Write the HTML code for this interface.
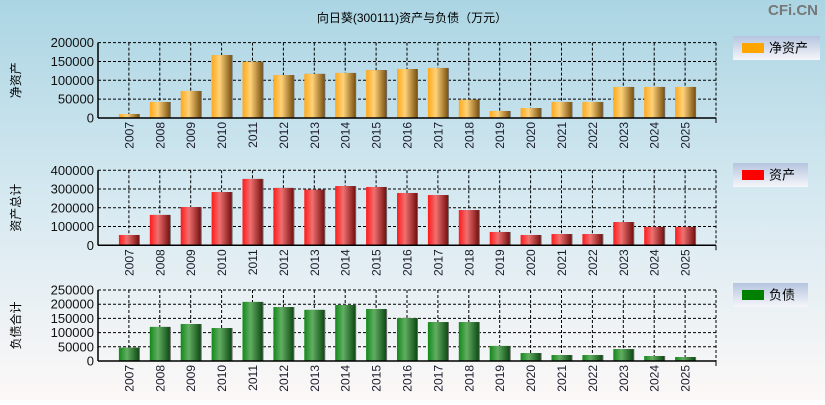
<!DOCTYPE html>
<html><head><meta charset="utf-8">
<style>
html,body{margin:0;padding:0;}
body{width:825px;height:400px;overflow:hidden;font-family:"Liberation Sans","Noto Sans CJK SC",sans-serif;}
</style></head>
<body>
<svg id="chart" width="825" height="400" xmlns="http://www.w3.org/2000/svg" font-family="Liberation Sans, Noto Sans CJK SC, sans-serif">
<defs>
<linearGradient id="bg" x1="0" y1="0" x2="0" y2="1"><stop offset="0" stop-color="#abd5e3"/><stop offset="0.5" stop-color="#d6e9f1"/><stop offset="1" stop-color="#fcf8f7"/></linearGradient>
<linearGradient id="lg" x1="0" y1="0" x2="0" y2="1"><stop offset="0" stop-color="#b5c5df"/><stop offset="1" stop-color="#f6f6fa"/></linearGradient>
<linearGradient id="gO" x1="0" y1="0" x2="1" y2="0"><stop offset="0" stop-color="#ffa81a"/><stop offset="0.4" stop-color="#ffd27a"/><stop offset="1" stop-color="#7d5412"/></linearGradient>
<linearGradient id="gR" x1="0" y1="0" x2="1" y2="0"><stop offset="0" stop-color="#ff1a1a"/><stop offset="0.4" stop-color="#f07070"/><stop offset="1" stop-color="#761010"/></linearGradient>
<linearGradient id="gG" x1="0" y1="0" x2="1" y2="0"><stop offset="0" stop-color="#12881a"/><stop offset="0.4" stop-color="#62ae62"/><stop offset="1" stop-color="#0e4a14"/></linearGradient>
</defs>
<rect width="825" height="400" fill="url(#bg)"/>
<text x="412" y="22" text-anchor="middle" font-size="12" fill="#000">向日葵(300111)资产与负债（万元）</text>
<text x="818" y="15" text-anchor="end" font-size="15" font-weight="bold" fill="#777">CFi.CN</text>
<g id="panels"></g>
</svg>
<script>
const categories = ['2007','2008','2009','2010','2011','2012','2013','2014','2015','2016','2017','2018','2019','2020','2021','2022','2023','2024','2025'];
const netAssets = [10600,42500,71700,167000,149500,114000,117000,119500,127000,130000,132700,48700,18600,26500,42500,42500,82300,82300,82300];
const totalAssets = [55000,162000,204000,284000,354000,306000,297000,316000,311000,279000,268000,188000,71000,55000,60000,60000,124000,98000,98000];
const totalLiabilities = [47000,120000,130000,116000,208000,190000,180000,197000,183000,151000,137000,137000,53000,28000,21000,21000,42000,17600,14000];
const ticks1 = [0,50000,100000,150000,200000];
const ticks2 = [0,100000,200000,300000,400000];
const ticks3 = [0,50000,100000,150000,200000,250000];

const NS='http://www.w3.org/2000/svg';
const root=document.getElementById('panels');
function mk(tag,attrs,parent){const e=document.createElementNS(NS,tag);for(const k in attrs)e.setAttribute(k,attrs[k]);(parent||root).appendChild(e);return e;}
const L=98,R=716;
function xPos(i){return L+(i+1)*(R-L)/(categories.length+1);}

function panel(cfg){
  const g=mk('g',{});
  
  
  const max=cfg.ticks[cfg.ticks.length-1];
  const y=v=>cfg.bottom-(v/max)*(cfg.bottom-cfg.top);
  // grid
  cfg.ticks.forEach(t=>{
    if(t>0){const l=mk('line',{x1:L,x2:R,y1:y(t),y2:y(t),stroke:'#000','stroke-dasharray':'3,2','stroke-width':1},g);
      }
    const tx=mk('text',{x:L-4,y:y(t)+4.5,'text-anchor':'end','font-size':13,fill:'#111'},g);
    tx.textContent=t;
    
  });
  categories.forEach((c,i)=>{
    const l=mk('line',{x1:xPos(i),x2:xPos(i),y1:cfg.top,y2:cfg.bottom,stroke:'#000','stroke-dasharray':'3,2'},g);
    
  });
  const rb=mk('line',{x1:R,x2:R,y1:cfg.top,y2:cfg.bottom,stroke:'#000','stroke-dasharray':'3,2'},g);
  
  // bars
  cfg.values.forEach((v,i)=>{
    const x=xPos(i);
    const sh=mk('rect',{x:x-9,y:y(v),width:20,height:cfg.bottom-y(v),fill:'#6a6a6a'},g);
    
    const b=mk('rect',{x:x-10,y:y(v),width:20,height:cfg.bottom-y(v),fill:cfg.fill},g);
    
    const tx=mk('text',{x:0,y:0,'text-anchor':'end','font-size':12,fill:'#1a1a2a',transform:`translate(${x+4.5},${cfg.bottom+4}) rotate(-90)`},g);
    tx.textContent=categories[i];
    
  });
  // axes
  const ay=mk('line',{x1:L,x2:L,y1:cfg.top,y2:cfg.bottom,stroke:'#000','stroke-width':1.5},g);
  
  const ax=mk('line',{x1:L,x2:R,y1:cfg.bottom,y2:cfg.bottom,stroke:'#000','stroke-width':1.5},g);
  
  const tk=mk('line',{x1:R,x2:R,y1:cfg.bottom,y2:cfg.bottom+5,stroke:'#000'},g);
  
  // y title
  const yt=mk('text',{x:0,y:0,'text-anchor':'middle','font-size':12,fill:'#000',transform:`translate(20,${(cfg.top+cfg.bottom)/2}) rotate(-90)`},g);
  yt.textContent=cfg.ytitle;
  
  // legend
  const lg=mk('g',{},g);
  
  mk('rect',{x:733,y:cfg.ly,width:cfg.lw,height:24,fill:'url(#lg)'},lg);
  mk('rect',{x:742,y:cfg.ly+7,width:22,height:10,fill:cfg.solid},lg);
  const lt=mk('text',{x:769,y:cfg.ly+16.5,'font-size':13,fill:'#000'},lg);
  lt.textContent=cfg.legend;
  
}
panel({name:'net-assets',top:42.6,bottom:118,ticks:ticks1,values:netAssets,fill:'url(#gO)',solid:'#ffa500',ytitle:'净资产',legend:'净资产',ly:36,lw:87});
panel({name:'total-assets',top:170.3,bottom:245.3,ticks:ticks2,values:totalAssets,fill:'url(#gR)',solid:'#ff0000',ytitle:'资产总计',legend:'资产',ly:163,lw:75});
panel({name:'total-liabilities',top:290,bottom:361,ticks:ticks3,values:totalLiabilities,fill:'url(#gG)',solid:'#008000',ytitle:'负债合计',legend:'负债',ly:283,lw:75});
</script>
</body></html>
